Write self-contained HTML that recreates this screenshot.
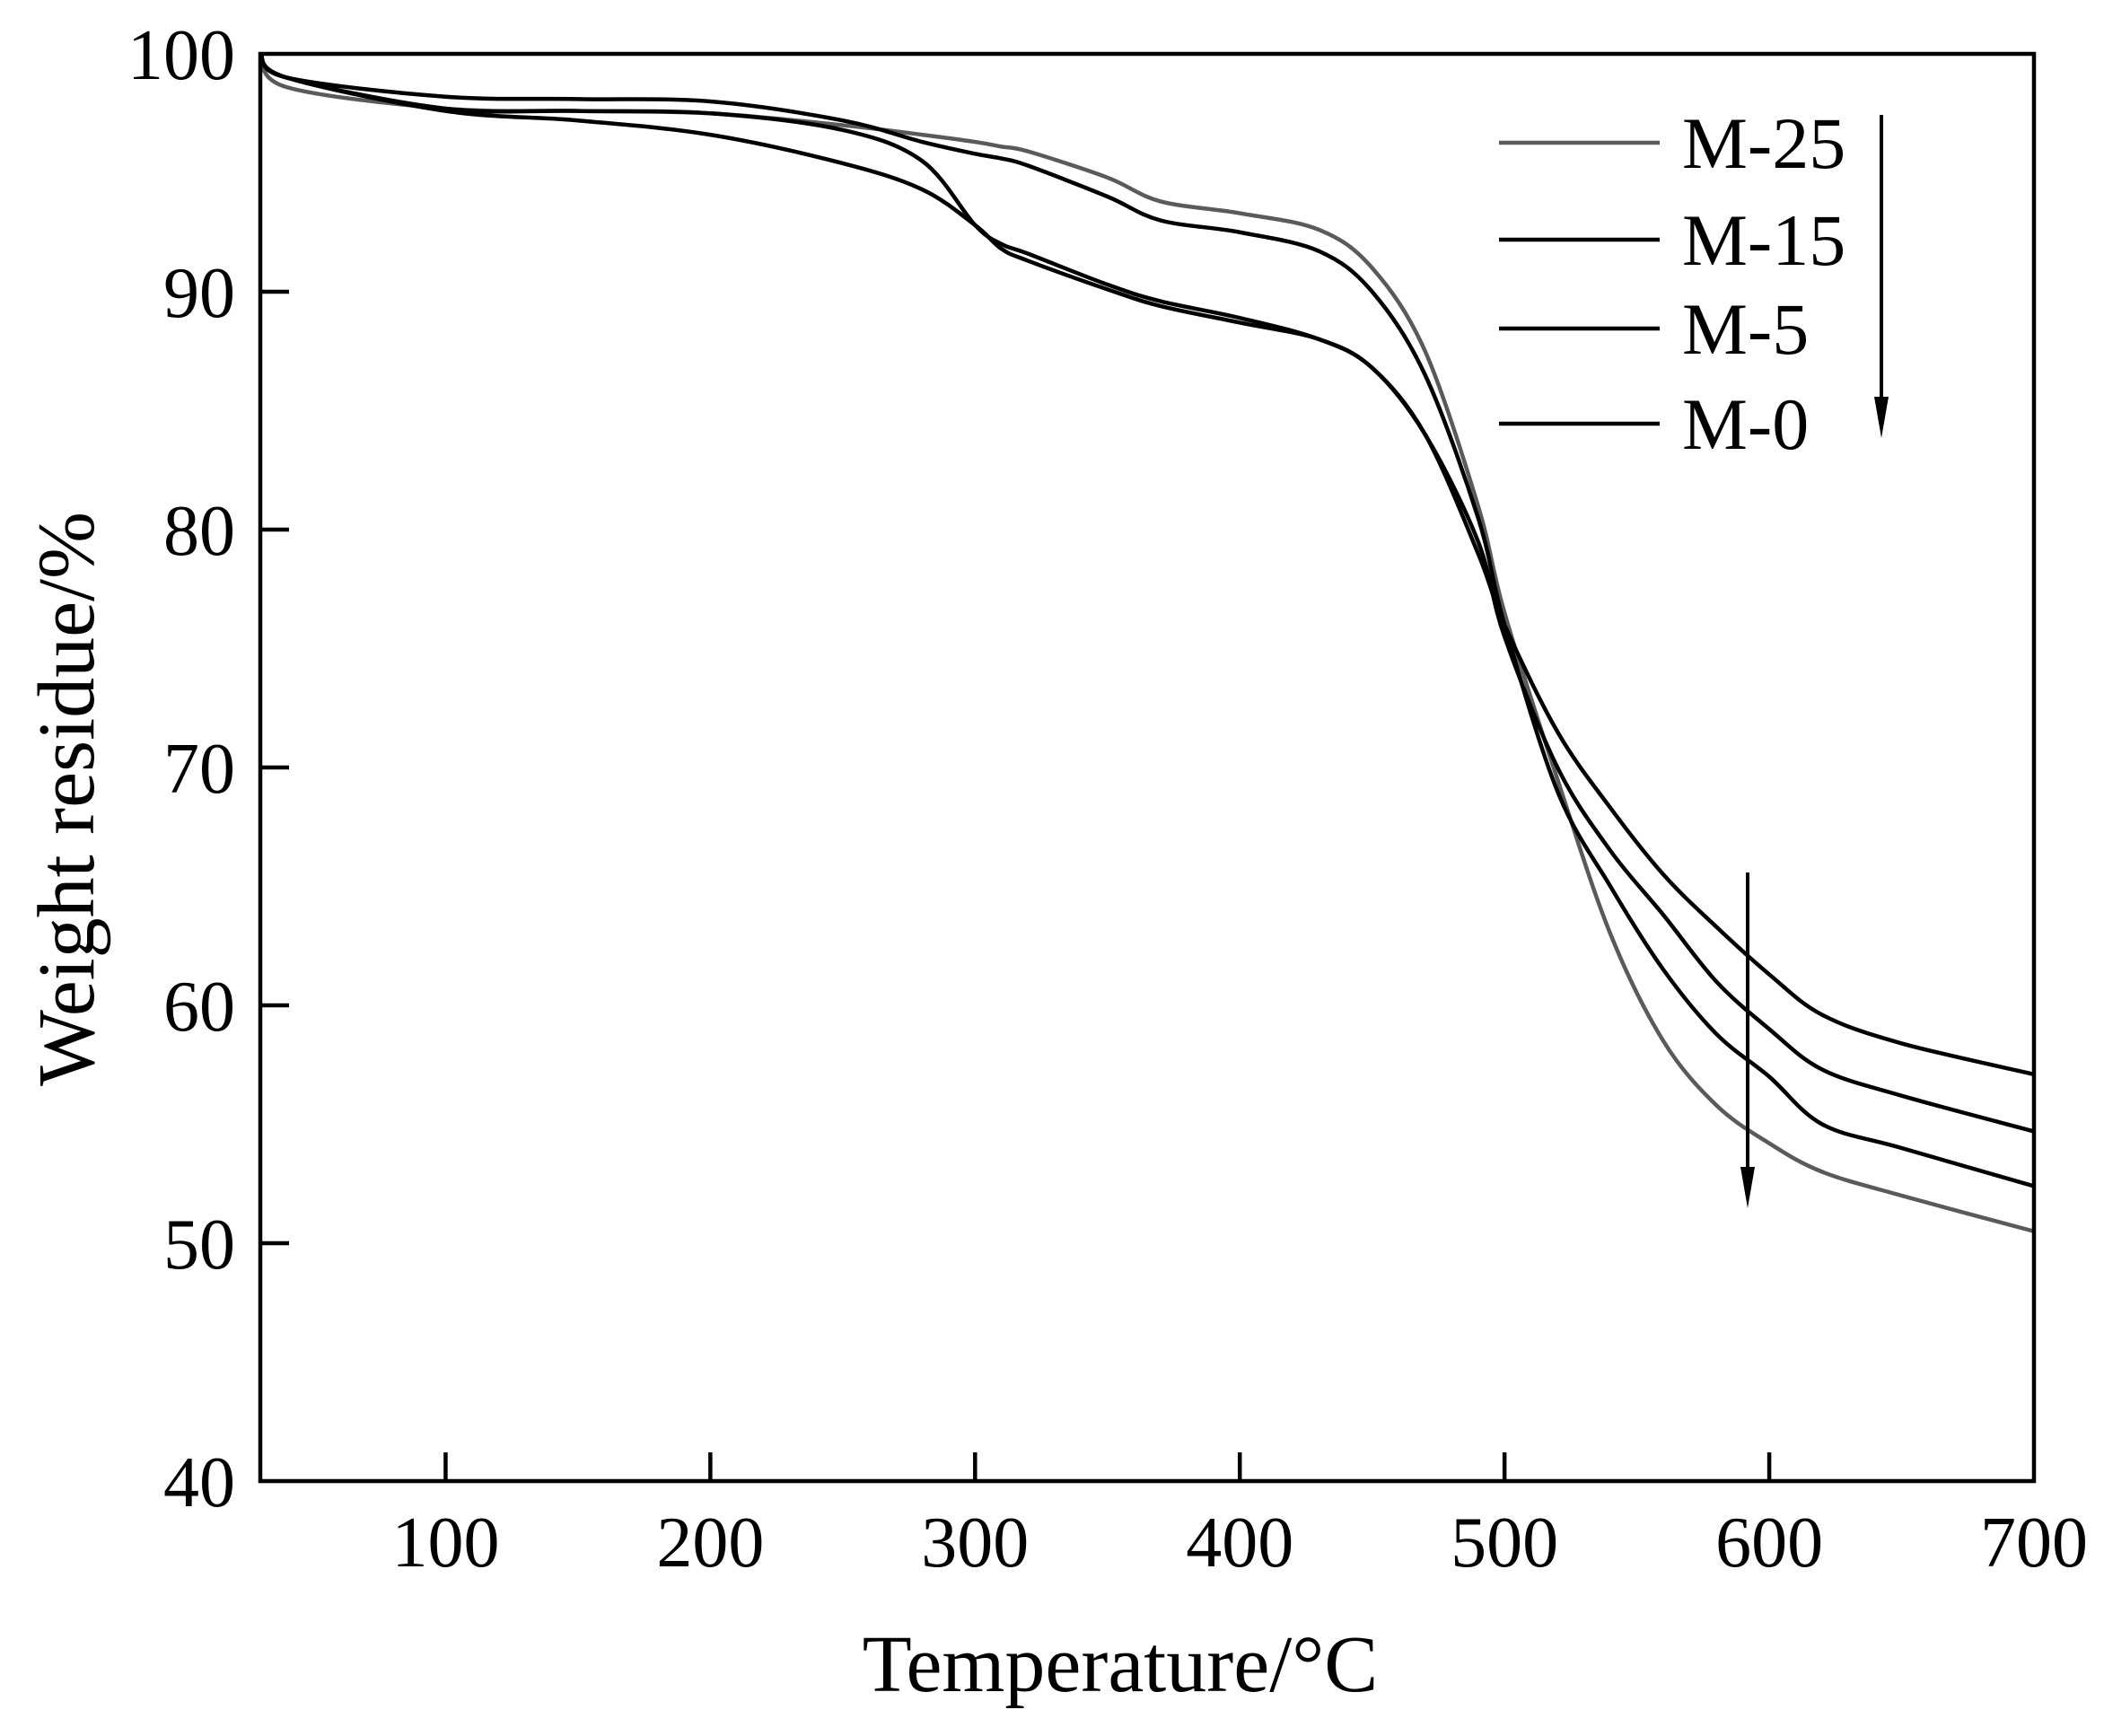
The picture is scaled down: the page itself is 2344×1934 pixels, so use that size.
<!DOCTYPE html>
<html><head><meta charset="utf-8"><style>
html,body{margin:0;padding:0;background:#fff}
svg{display:block}
text{font-family:"Liberation Serif",serif;fill:#000}
</style></head><body>
<svg id="chart" width="2344" height="1934" viewBox="0 0 2344 1934" xmlns="http://www.w3.org/2000/svg">
<rect width="2344" height="1934" fill="#fff"/>
<g id="series"></g>
<g id="axes"></g>
</svg>
<script>
const temps = [30,40,100,150,200,250,280,300,310,320,350,370,400,430,450,470,490,500,520,540,560,580,600,620,650,700];
const m25 = [100,98.6,97.7,97.6,97.5,97.0,96.6,96.3,96.1,95.9,94.8,93.8,93.3,92.6,91.0,87.5,81.0,76.5,69.5,63.0,58.5,55.8,54.2,53.0,52.0,50.5];
const m15 = [100,99.0,98.2,98.1,98.0,97.2,96.3,95.8,95.6,95.3,94.0,93.0,92.5,91.7,90.0,86.5,80.5,76.0,69.0,65.0,61.5,58.8,57.0,55.0,54.0,52.4];
const m5  = [100,99.0,97.7,97.6,97.5,96.8,95.5,92.8,92.0,91.6,90.3,89.6,88.9,88.0,86.8,84.0,79.5,75.5,70.0,66.5,63.8,61.0,59.0,57.3,56.2,54.7];
const m0  = [100,99.0,97.6,97.2,96.6,95.4,94.3,92.8,91.8,91.3,90.1,89.4,88.7,88.0,86.8,84.0,79.0,76.0,71.5,68.3,65.5,63.3,61.3,59.6,58.4,57.1];
const seriesNames = ["M-25","M-15","M-5","M-0"];
const xTicks = [100,200,300,400,500,600,700];
const yTicks = [40,50,60,70,80,90,100];

const L=290,R=2266,T=60,B=1650, XMIN=30,XMAX=700,YMIN=40,YMAX=100;
const sx=v=>L+(v-XMIN)/(XMAX-XMIN)*(R-L);
const sy=v=>B-(v-YMIN)/(YMAX-YMIN)*(B-T);
const NS="http://www.w3.org/2000/svg";
function mk(tag,attrs,parent){const e=document.createElementNS(NS,tag);for(const k in attrs)e.setAttribute(k,attrs[k]);parent.appendChild(e);return e;}
const sg=document.getElementById('series'), ag=document.getElementById('axes');
const datas=[m25,m15,m5,m0], colors=["#5a5a5a","#000","#000","#000"];
datas.forEach((d,i)=>{
  const pts=temps.map((t,j)=>[sx(t),sy(d[j])]);
  let p="M"+pts[0][0]+","+pts[0][1];
  for(let j=0;j<pts.length-1;j++){
    const p0=pts[j-1]||pts[j],p1=pts[j],p2=pts[j+1],p3=pts[j+2]||p2;
    p+=" C"+(p1[0]+(p2[0]-p0[0])/6)+","+(p1[1]+(p2[1]-p0[1])/6)+" "+(p2[0]-(p3[0]-p1[0])/6)+","+(p2[1]-(p3[1]-p1[1])/6)+" "+p2[0]+","+p2[1];
  }
  const e=mk('path',{d:p,fill:"none",stroke:colors[i],"stroke-width":4.5},sg);
  
  
  const ly=[159,267,366,472][i];
  const ll=mk('line',{x1:1670,x2:1849,y1:ly,y2:ly,stroke:colors[i],"stroke-width":4.5},ag);
  
  
  const lt=mk('text',{x:1874,y:ly+28,"font-size":82},ag);
  lt.textContent=seriesNames[i];
  
  
});
const frame=mk('rect',{x:L,y:T,width:R-L,height:B-T,fill:"none",stroke:"#000","stroke-width":4.5},ag);


xTicks.forEach(v=>{
  const x=sx(v);
  if(v<XMAX){const t=mk('line',{x1:x,x2:x,y1:B,y2:B-32,stroke:"#000","stroke-width":4.5},ag);
  
  }
  const l=mk('text',{x:x,y:1745,"font-size":80,"text-anchor":"middle"},ag);
  l.textContent=v;
  
  
});
yTicks.forEach(v=>{
  const y=sy(v);
  if(v>YMIN&&v<YMAX){const t=mk('line',{x1:L,x2:L+32,y1:y,y2:y,stroke:"#000","stroke-width":4.5},ag);
  
  }
  const l=mk('text',{x:262,y:y+28,"font-size":80,"text-anchor":"end"},ag);
  l.textContent=v;
  
  
});
function arrow(x,y1,y2,name){
  const g=mk('g',{},ag);
  
  
  mk('line',{x1:x,x2:x,y1:y1,y2:y2-40,stroke:"#000","stroke-width":4},g);
  mk('polygon',{points:(x-8)+","+(y2-46)+" "+(x+8)+","+(y2-46)+" "+x+","+y2,fill:"#000"},g);
}
arrow(2096,128,488,'legend-trend-arrow');
arrow(1947,972,1346,'residue-trend-arrow');
const xt=mk('text',{x:1248,y:1884,"font-size":90,"text-anchor":"middle"},ag);
xt.textContent="Temperature/°C";


const yt=mk('text',{x:0,y:0,"font-size":90,"text-anchor":"middle",transform:"translate(104,890) rotate(-90)"},ag);
yt.textContent="Weight residue/%";


</script>
</body></html>
